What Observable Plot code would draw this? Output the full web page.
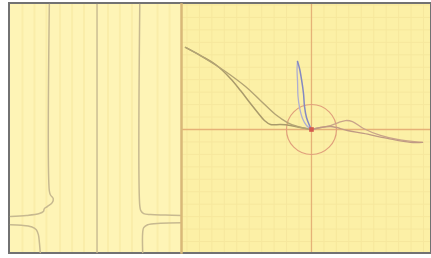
<!DOCTYPE html>
<html>
<head>
<meta charset="utf-8">
<script src="https://cdn.jsdelivr.net/npm/d3@7"></script>
<script src="https://cdn.jsdelivr.net/npm/@observablehq/plot@0.6"></script>
<style>
  html, body { margin: 0; padding: 0; background: #ffffff; width: 431px; height: 258px; overflow: hidden; }
  #frame { position: absolute; left: 8px; top: 2px; width: 420px; height: 248px; border: 2px solid #727272; display: flex; }
  #frame svg { display: block; }
</style>
</head>
<body>
<div id="frame"><div id="left"></div><div id="right"></div></div>
<script>
// ---------- Left panel (arbitrary units 0..100) ----------
const leftStripes = [7, 14, 21, 29, 36, 43, 57, 64, 71, 86, 93];
const leftTraceA = [[22.7,100],[22.7,24.9],[23.3,23.3],[25.0,21.7],[24.4,20.1],[21.5,18.5],[19.8,17.7],[19.2,16.5],[16.9,15.7],[9.3,14.9],[0,14.5]];
const leftTraceB = [[0,11.2],[6.4,11.0],[12.2,10.4],[15.1,9.2],[16.3,7.2],[16.9,4.0],[17.4,0]];
const leftMiddle = [[50.6,0],[50.6,100]];
const leftTraceC = [[75.6,100],[75.6,18.9],[76.2,16.9],[77.9,15.7],[82.0,15.3],[90.7,15.1],[100,14.9]];
const leftTraceD = [[100,12.0],[87.8,11.8],[80.2,11.2],[77.9,10.0],[77.3,8.0],[77.3,0]];

// ---------- Right panel (grid units, origin at crosshair) ----------
const gridX = d3.range(-10, 10, 1);
const gridY = d3.range(-9, 11, 1);
const loopUpper = [[-10.12,6.59],[-8.92,5.94],[-7.71,5.22],[-6.51,4.10],[-5.70,3.13],[-4.90,2.09],[-4.26,1.29],[-3.78,0.72],[-3.29,0.40],[-2.49,0.40],[-1.69,0.32],[-0.88,0.16],[0,0]];
const loopLower = [[-10.12,6.59],[-8.51,5.70],[-6.91,4.66],[-5.30,3.45],[-4.10,2.33],[-2.89,1.20],[-1.93,0.56],[-1.12,0.24],[-0.48,0.08],[0,0]];
const tailBump = [[0,0],[0.72,0.16],[1.53,0.32],[2.17,0.56],[2.73,0.72],[3.29,0.64],[4.18,0.08],[5.54,-0.48],[6.91,-0.80],[8.92,-1.04]];
const tailFlat = [[0,0],[1.53,0.24],[2.89,-0.08],[4.18,-0.32],[6.10,-0.72],[7.95,-1.04],[8.92,-1.04]];
const blueDown = [[0,0],[-0.16,0.32],[-0.40,0.96],[-0.56,1.85],[-0.64,2.89],[-0.80,4.02],[-0.96,4.90],[-1.12,5.46]];
const blueUp = [[-1.12,5.46],[-1.16,4.82],[-1.12,3.86],[-1.08,2.65],[-0.96,1.77],[-0.72,0.88],[-0.40,0.32],[0,0]];
const origin = [[0,0]];

const traceColor = "#c7b990";
const left = Plot.plot({
  width: 171, height: 248, margin: 0,
  x: {domain: [0, 100], axis: null},
  y: {domain: [0, 100], axis: null},
  style: {background: "#fef4b6", overflow: "visible"},
  marks: [
    Plot.ruleX(leftStripes, {stroke: "#faeda9", strokeWidth: 2}),
    Plot.line(leftMiddle, {stroke: traceColor, strokeWidth: 1.4}),
    Plot.line(leftTraceA, {curve: "catmull-rom", stroke: traceColor, strokeWidth: 1.5}),
    Plot.line(leftTraceB, {curve: "catmull-rom", stroke: traceColor, strokeWidth: 1.5}),
    Plot.line(leftTraceC, {curve: "catmull-rom", stroke: traceColor, strokeWidth: 1.5}),
    Plot.line(leftTraceD, {curve: "catmull-rom", stroke: traceColor, strokeWidth: 1.5})
  ]
});

const right = Plot.plot({
  width: 249, height: 248, margin: 0,
  x: {domain: [-10.44, 9.56], axis: null},
  y: {domain: [-9.88, 10.04], axis: null},
  style: {background: "#fcf0a6", overflow: "visible"},
  marks: [
    Plot.ruleX(gridX, {stroke: "#f6e79d", strokeWidth: 1}),
    Plot.ruleY(gridY, {stroke: "#f6e79d", strokeWidth: 1}),
    Plot.ruleX([0], {stroke: "#e5b177", strokeWidth: 1.3}),
    Plot.ruleY([0], {stroke: "#e5b177", strokeWidth: 1.3}),
    Plot.frame({anchor: "left", stroke: "#d9b878", strokeWidth: 2.5}),
    Plot.dot(origin, {r: 25, stroke: "#e0a07c", strokeWidth: 1.2, fill: "none"}),
    Plot.line(loopUpper, {curve: "catmull-rom", stroke: "#a99a6b", strokeWidth: 1.5}),
    Plot.line(loopLower, {curve: "catmull-rom", stroke: "#b3a474", strokeWidth: 1.4}),
    Plot.line(tailBump, {curve: "catmull-rom", stroke: "#c9a48a", strokeWidth: 1.3}),
    Plot.line(tailFlat, {curve: "catmull-rom", stroke: "#bf9a84", strokeWidth: 1.3}),
    Plot.line(blueUp, {curve: "catmull-rom", stroke: "#aeaed2", strokeWidth: 1.3}),
    Plot.line(blueDown, {curve: "catmull-rom", stroke: "#8489c2", strokeWidth: 1.5}),
    Plot.dot(origin, {symbol: "square", r: 2.6, fill: "#d45a4e"})
  ]
});

document.getElementById("left").appendChild(left);
document.getElementById("right").appendChild(right);
</script>
</body>
</html>
